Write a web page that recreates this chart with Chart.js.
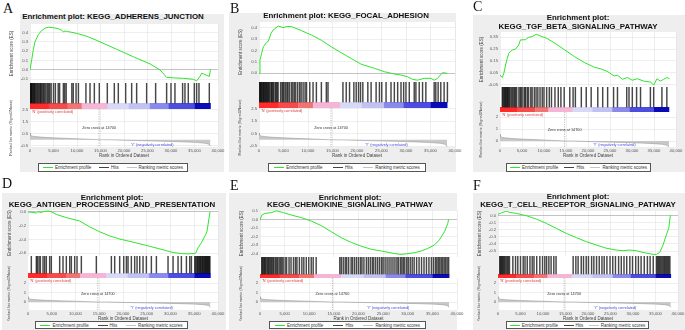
<!DOCTYPE html>
<html>
<head>
<meta charset="utf-8">
<script src="https://cdn.jsdelivr.net/npm/chart.js@4.4.1/dist/chart.umd.min.js"></script>
<style>
  body { margin: 0; width: 685px; height: 330px; position: relative; overflow: hidden; background: #fff;
         font-family: "Liberation Sans", Arial, sans-serif; }
  .box { position: absolute; background: #eeeeee; }
  .letter { position: absolute; font-family: "Liberation Serif", "DejaVu Serif", serif; font-size: 14px; line-height: 14px; color: #111; }
  .title { position: absolute; font-weight: bold; font-size: 7.9px; text-align: center; white-space: nowrap;
           transform: translateX(-50%); color: #111; }
  .legend { position: absolute; box-sizing: border-box; border: 1px solid #555; background: #fff; display: flex;
            justify-content: space-around; align-items: center; font-size: 4.5px; color: #333; white-space: nowrap; }
  .legend i { display: inline-block; width: 10px; height: 1px; vertical-align: middle; margin-right: 2px; }
  canvas { position: absolute; }
</style>
</head>
<body>
<script>
// ====== DATOS ======
// ranked list (compartida por los 6 paneles)
const metricRank  = [0, 100, 500, 1500, 3000, 5000, 7500, 10000, 12500, 14700, 16500, 20000, 24000, 28000, 32000, 35000, 37000, 38000, 38400];
const metricScore = [0.55, 0.38, 0.3, 0.25, 0.2, 0.16, 0.12, 0.08, 0.04, 0.0, 0.0, -0.04, -0.08, -0.12, -0.17, -0.22, -0.28, -0.36, -0.55];
const zeroCross = 14700;

// barra de color (rojo -> azul)
const colorStops = [0, 4000, 8000, 11000, 16500, 21000, 25500, 29500, 35000, 38400];
const colorBands = ['#ff2a2a', '#f44c4c', '#f07474', '#f5b6d6', '#d8d8f7', '#c2c2f2', '#8a8aec', '#4d4de0', '#0a0ab8'];

// A - KEGG_ADHERENS_JUNCTION
const rankA = [0, 360, 700, 1060, 1770, 2490, 3200, 3900, 4960, 6000, 6740, 7100, 7450, 8000, 9930, 12060, 14890, 18440, 21990, 25530, 27660, 29070, 30500, 32620, 34750, 35460, 36170, 36520, 37230, 38150, 38400];
const esA   = [0, 0.107, 0.215, 0.30, 0.376, 0.42, 0.445, 0.455, 0.45, 0.44, 0.425, 0.405, 0.415, 0.41, 0.39, 0.36, 0.30, 0.22, 0.14, 0.064, 0.0, -0.08, -0.085, -0.09, -0.1, -0.117, -0.07, -0.035, -0.05, -0.07, 0.005];
const hitsA = [30, 120, 260, 380, 520, 700, 850, 1000, 1150, 1400, 1600, 1800, 2050, 2250, 2400, 2700, 2900, 3150, 3400, 3700, 3950, 4200, 4500, 5000, 5400, 6000, 6300, 7100, 7400, 7700, 8900, 9200, 9800, 10300, 11900, 12770, 13690, 14750, 16450, 17940, 18790, 20350, 21630, 22690, 24820, 26730, 29070, 30000, 30840, 32470, 32970, 33680, 34960, 35450, 35950, 38150];

// B - KEGG_FOCAL_ADHESION
const rankB = [0, 200, 540, 880, 1550, 1900, 2440, 2900, 3930, 4940, 5620, 6630, 8670, 10700, 12730, 14760, 16790, 18820, 20850, 23560, 25590, 27620, 28980, 30330, 31340, 32360, 33710, 35070, 35750, 36420, 37440, 38450];
const esB   = [0, 0.117, 0.175, 0.233, 0.27, 0.28, 0.35, 0.38, 0.415, 0.40, 0.41, 0.41, 0.374, 0.336, 0.29, 0.233, 0.18, 0.13, 0.08, 0.044, 0.014, -0.006, -0.015, -0.03, -0.053, -0.06, -0.044, -0.044, -0.06, -0.045, 0.006, 0.0];
const hitsB = [60, 200, 330, 450, 600, 780, 900, 1050, 1200, 1380, 1500, 1700, 1850, 2000, 2200, 2450, 2600, 2800, 3000, 3300, 3500, 3700, 3900, 4400, 4700, 4900, 5100, 5400, 5700, 5900, 6200, 6600, 6900, 7200, 7500, 7900, 8300, 8600, 9000, 9400, 9700, 10360, 11030, 11710, 12730, 13740, 14080, 17130, 17800, 18480, 19360, 19840, 20310, 20720, 21190, 22210, 22880, 23900, 24580, 25050, 25930, 26940, 27620, 28300, 28980, 29520, 29990, 30670, 31680, 32020, 32700, 33380, 34050, 35750, 36080, 36560, 37100, 37780, 38450];

// C - KEGG_TGF_BETA_SIGNALING_PATHWAY
const rankC = [0, 520, 900, 1270, 1650, 2020, 2770, 3520, 4260, 4640, 5760, 6510, 7260, 8230, 9130, 10620, 12490, 14740, 16980, 19220, 21470, 22960, 24460, 25960, 26700, 27830, 28950, 30070, 31190, 32690, 34180, 34930, 35680, 36430, 37180, 37920, 38520];
const esC   = [0.031, 0.01, 0.05, 0.116, 0.173, 0.215, 0.243, 0.25, 0.285, 0.328, 0.33, 0.35, 0.355, 0.376, 0.362, 0.342, 0.30, 0.243, 0.186, 0.136, 0.097, 0.083, 0.06, 0.023, 0.03, -0.005, 0.01, -0.013, 0.0, -0.02, -0.028, -0.053, 0.0, -0.02, -0.005, 0.01, 0.0];
const hitsC = [520, 700, 900, 1100, 1250, 1450, 1650, 1800, 2000, 2200, 2500, 2750, 3000, 3300, 3500, 3800, 4300, 4600, 4850, 5200, 5600, 5800, 6200, 6500, 7000, 7300, 7800, 8200, 8600, 9100, 9600, 10000, 10600, 11200, 11700, 12490, 13240, 13840, 14590, 15860, 16610, 17130, 18480, 19600, 20720, 22220, 23340, 24460, 25810, 26700, 28800, 29320, 30070, 31040, 31940, 34180, 34930, 36800, 37920];

// D - KEGG_ANTIGEN_PROCESSING_AND_PRESENTATION
const rankD = [0, 1050, 1760, 2110, 2810, 3160, 4210, 4910, 5970, 8070, 10880, 12990, 15090, 17200, 19300, 22110, 25620, 28430, 30540, 32290, 33700, 35310, 35800, 36500, 37420, 37700, 38050, 38330];
const esD   = [-0.005, -0.01, -0.02, 0.0, -0.015, 0.0, 0.01, 0.0, -0.04, -0.086, -0.135, -0.22, -0.29, -0.35, -0.395, -0.44, -0.50, -0.55, -0.59, -0.605, -0.61, -0.6, -0.52, -0.45, -0.33, -0.28, -0.12, 0.0];
const hitsD = [700, 1760, 1970, 2320, 2600, 3160, 3510, 3860, 4560, 4910, 6670, 7370, 8070, 8780, 9130, 9830, 10320, 11230, 14390, 17550, 18250, 19300, 20150, 20710, 21060, 21760, 22460, 22960, 23520, 24220, 24920, 25970, 27030, 29480, 30540, 31590, 32290, 33350, 34050, 34400, 35100, 35300, 35550, 35700, 35900, 36100, 36250, 36400, 36600, 36750, 36900, 37100, 37250, 37400, 37550, 37700, 37850, 38000, 38150, 38300];

// E - KEGG_CHEMOKINE_SIGNALING_PATHWAY
const rankE = [0, 340, 1010, 2360, 3370, 4720, 6410, 8430, 10450, 12480, 14500, 16530, 18550, 20570, 22600, 24620, 27320, 28670, 30020, 31360, 32710, 34060, 35410, 36420, 37460, 38110, 38310];
const esE   = [-0.01, 0.05, 0.07, 0.08, 0.10, 0.08, 0.05, 0.02, -0.02, -0.075, -0.145, -0.215, -0.27, -0.314, -0.35, -0.37, -0.40, -0.41, -0.40, -0.39, -0.37, -0.34, -0.30, -0.24, -0.145, -0.05, 0.0];
const hitsE = [340, 500, 700, 900, 1050, 1250, 1500, 1700, 1900, 2150, 2350, 2600, 2800, 3100, 3350, 3600, 3900, 4200, 4450, 4700, 5100, 5400, 5900, 6300, 6800, 7200, 7500, 8000, 8500, 8900, 9400, 9900, 10400, 10800, 11400, 16200, 16500, 16900, 17300, 17600, 18000, 18500, 18800, 19200, 19600, 20000, 20400, 20700, 21100, 21600, 22000, 22400, 22800, 23100, 23500, 23900, 24300, 24700, 25000, 25400, 25800, 26200, 26600, 27000, 27400, 27800, 28100, 28500, 28800, 29100, 29400, 29800, 30100, 30500, 30900, 31300, 31800, 32300, 32800, 33300, 33800, 34300, 34800, 35200, 35600, 35900, 36200, 36500, 36800, 37100, 37400, 37700, 38000, 38300];

// F - KEGG_T_CELL_RECEPTOR_SIGNALING_PATHWAY
const rankF = [0, 740, 1850, 2590, 4080, 6300, 8520, 10740, 12970, 15190, 17410, 19640, 21860, 24080, 26310, 27790, 29270, 30750, 32230, 34460, 35200, 35940, 36680, 37420, 37940, 38310];
const esF   = [0.02, 0.04, 0.066, 0.047, 0.033, 0.0, -0.047, -0.108, -0.18, -0.25, -0.31, -0.368, -0.415, -0.46, -0.486, -0.495, -0.486, -0.495, -0.52, -0.547, -0.547, -0.52, -0.415, -0.27, -0.18, 0.01];
const hitsF = [370, 550, 750, 950, 1150, 1350, 1550, 1800, 2050, 2300, 2550, 3300, 3900, 4400, 5000, 5600, 6000, 6500, 7100, 7600, 8000, 8600, 9300, 9900, 10400, 10800, 11300, 11800, 12400, 12900, 16700, 17300, 17800, 18500, 19000, 19600, 20100, 20800, 21300, 21900, 22500, 23100, 23600, 24200, 24900, 25500, 26100, 26800, 27400, 28000, 28600, 29300, 29900, 30600, 31200, 31800, 32500, 33200, 33800, 34500, 35200, 35450, 35700, 35950, 36200, 36450, 36700, 36950, 37200, 37450, 37700, 37950, 38200];

// ====== PANELES (textos, escalas y posición) ======
const panels = [
  { letter: 'A', title: ['Enrichment plot: KEGG_ADHERENS_JUNCTION'], rank: rankA, es: esA, hits: hitsA,
    esMin: -0.14, esMax: 0.49, esStep: 0.1, esDec: 1, rmMin: -0.61, rmMax: 2.58, rmStep: 0.5, rmDec: 1,
    box: [20, 14, 204, 158], letterAt: [3, 2], titleAt: [113, 17, 8],
    x0: 30, x1: 218, es0: 24, es1: 83, cb0: 103, cb1: 109, rm1: 147, legend: [38, 163, 150, 9] },
  { letter: 'B', title: ['Enrichment plot: KEGG_FOCAL_ADHESION'], rank: rankB, es: esB, hits: hitsB,
    esMin: -0.076, esMax: 0.45, esStep: 0.1, esDec: 1, rmMin: -0.58, rmMax: 2.58, rmStep: 0.5, rmDec: 1,
    box: [229, 13, 227, 159], letterAt: [230, 2], titleAt: [346, 16, 8],
    x0: 259, x1: 455, es0: 22, es1: 82, cb0: 102, cb1: 108, rm1: 147, legend: [268, 163, 158, 9] },
  { letter: 'C', title: ['Enrichment plot:', 'KEGG_TGF_BETA_SIGNALING_PATHWAY'], rank: rankC, es: esC, hits: hitsC,
    esMin: -0.07, esMax: 0.395, esStep: 0.05, esDec: 2, rmMin: -0.5, rmMax: 2.42, rmStep: 1, rmDec: 0,
    box: [473, 15, 212, 157], letterAt: [473, 0], titleAt: [578, 17, 9],
    x0: 500, x1: 676, es0: 32, es1: 87, cb0: 107, cb1: 112, rm1: 147, legend: [506, 163, 145, 9] },
  { letter: 'D', title: ['Enrichment plot:', 'KEGG_ANTIGEN_PROCESSING_AND_PRESENTATION'], rank: rankD, es: esD, hits: hitsD,
    esMin: -0.64, esMax: 0.024, esStep: 0.1, esDec: 1, rmMin: -0.84, rmMax: 2.53, rmStep: 1, rmDec: 0,
    box: [2, 193, 224, 137], letterAt: [2, 177], titleAt: [112, 197, 7],
    x0: 28, x1: 218, es0: 210, es1: 256, cb0: 273, cb1: 278, rm1: 310, legend: [35, 321, 153, 8] },
  { letter: 'E', title: ['Enrichment plot:', 'KEGG_CHEMOKINE_SIGNALING_PATHWAY'], rank: rankE, es: esE, hits: hitsE,
    esMin: -0.44, esMax: 0.11, esStep: 0.1, esDec: 1, rmMin: -0.84, rmMax: 2.53, rmStep: 1, rmDec: 0,
    box: [229, 193, 228, 137], letterAt: [230, 179], titleAt: [350, 197, 7],
    x0: 260, x1: 457, es0: 210, es1: 257, cb0: 274, cb1: 278, rm1: 310, legend: [269, 321, 157, 8] },
  { letter: 'F', title: ['Enrichment plot:', 'KEGG_T_CELL_RECEPTOR_SIGNALING_PATHWAY'], rank: rankF, es: esF, hits: hitsF,
    esMin: -0.57, esMax: 0.067, esStep: 0.1, esDec: 1, rmMin: -0.84, rmMax: 2.53, rmStep: 1, rmDec: 0,
    box: [473, 193, 212, 137], letterAt: [473, 179], titleAt: [578, 197, 7.5],
    x0: 498, x1: 678, es0: 211, es1: 256, cb0: 274, cb1: 278, rm1: 310, legend: [506, 321, 143, 8] }
];

// ====== ESTILO GENERAL ======
Chart.defaults.font.family = '"Liberation Sans", Arial, sans-serif';
Chart.defaults.color = '#555';
const YW = 21, PR = 14, PT = 4, PTR = 32, XH = 11;
const GRID = '#e2e2e2';
const tickFont = { size: 4.2 };
const axisFont = { size: 4.5 };

const fixY = w => a => { a.width = w; a.paddingTop = 0; a.paddingBottom = 0; };
const fixX = h => a => { a.height = h; a.paddingLeft = 0; a.paddingRight = 0; };

// fondo blanco del área de dibujo
const whiteArea = {
  id: 'whiteArea',
  beforeDraw(chart) {
    const { ctx, chartArea: a } = chart;
    ctx.save(); ctx.fillStyle = '#fff'; ctx.fillRect(a.left, a.top, a.width, a.height); ctx.restore();
  }
};

// barra de color bajo los hits
const colorBar = {
  id: 'colorBar',
  beforeDatasetsDraw(chart, args, opts) {
    const { ctx, scales: { x, y } } = chart;
    const yt = y.getPixelForValue(opts.frac), yb = y.getPixelForValue(0);
    ctx.save();
    for (let i = 0; i < colorBands.length; i++) {
      const xa = x.getPixelForValue(colorStops[i]), xb = x.getPixelForValue(colorStops[i + 1]);
      ctx.fillStyle = colorBands[i];
      ctx.fillRect(xa, yt, xb - xa + 0.3, yb - yt);
    }
    ctx.restore();
  }
};

// notas del gráfico de ranking
const rankNotes = {
  id: 'rankNotes',
  afterDatasetsDraw(chart) {
    const { ctx, chartArea: a, scales: { x } } = chart;
    ctx.save();
    const zx = x.getPixelForValue(zeroCross);
    ctx.strokeStyle = '#8a8a8a'; ctx.lineWidth = 0.6; ctx.setLineDash([1.2, 1.2]);
    ctx.beginPath(); ctx.moveTo(zx, a.top); ctx.lineTo(zx, a.bottom); ctx.stroke();
    ctx.font = '3.8px "Liberation Sans", Arial, sans-serif';
    ctx.textBaseline = 'middle';
    ctx.fillStyle = '#e23a3a'; ctx.textAlign = 'left';
    ctx.fillText("'N' (positively correlated)", x.getPixelForValue(400), a.top + 2.5);
    ctx.fillStyle = '#333'; ctx.textAlign = 'center';
    ctx.fillText('Zero cross at ' + zeroCross, zx, (a.top + a.bottom) / 2);
    ctx.fillStyle = '#4a4ae0';
    ctx.fillText("'Y' (negatively correlated)", x.getPixelForValue(26000), a.bottom - 2.2);
    ctx.restore();
  }
};

function addDiv(cls, l, t, html) {
  const d = document.createElement('div');
  d.className = cls; d.style.left = l + 'px'; d.style.top = t + 'px';
  if (html) d.innerHTML = html;
  document.body.appendChild(d);
  return d;
}
function mkCanvas(l, t, w, h) {
  const c = document.createElement('canvas');
  c.width = w; c.height = h;
  c.style.left = l + 'px'; c.style.top = t + 'px'; c.style.width = w + 'px'; c.style.height = h + 'px';
  document.body.appendChild(c);
  return c;
}
const base = { responsive: false, animation: false, devicePixelRatio: 1,
  plugins: { legend: { display: false }, tooltip: { enabled: false } } };

panels.forEach(p => {
  // caja gris, letra, título y leyenda
  const b = addDiv('box', p.box[0], p.box[1]);
  b.style.width = p.box[2] + 'px'; b.style.height = p.box[3] + 'px';
  addDiv('letter', p.letterAt[0], p.letterAt[1], p.letter);
  const t = addDiv('title', p.titleAt[0], p.titleAt[1] - p.titleAt[2] / 2, p.title.join('<br>'));
  t.style.lineHeight = p.titleAt[2] + 'px';
  const lg = addDiv('legend', p.legend[0], p.legend[1],
    '<span><i style="background:#2ee62e"></i>Enrichment profile</span>' +
    '<span><i style="background:#444"></i>Hits</span>' +
    '<span><i style="background:#c4c4c4"></i>Ranking metric scores</span>');
  lg.style.width = p.legend[2] + 'px'; lg.style.height = p.legend[3] + 'px';

  const pw = p.x1 - p.x0;

  // 1) curva de enrichment score
  new Chart(mkCanvas(p.x0 - YW, p.es0 - PT, YW + pw + PR, PT + (p.es1 - p.es0)), {
    type: 'line',
    data: { datasets: [{ data: p.rank.map((r, i) => ({ x: r, y: p.es[i] })),
      borderColor: '#2ee62e', borderWidth: 1, pointRadius: 0, tension: 0, fill: false }] },
    options: { ...base,
      layout: { padding: { top: PT, right: PR, bottom: 0, left: 0 } },
      scales: {
        x: { type: 'linear', min: 0, max: 40000, ticks: { display: false, stepSize: 5000 },
             grid: { color: GRID, drawTicks: false, lineWidth: 0.6 }, border: { display: false }, afterFit: fixX(0) },
        y: { min: p.esMin, max: p.esMax,
             ticks: { stepSize: p.esStep, includeBounds: false, font: tickFont, padding: 2, callback: v => v.toFixed(p.esDec) },
             grid: { color: c => Math.abs(c.tick.value) < 1e-9 ? '#9a9a9a' : GRID, drawTicks: false, lineWidth: 0.6 },
             border: { display: false },
             title: { display: true, text: 'Enrichment score (ES)', font: axisFont, color: '#444', padding: 0 },
             afterFit: fixY(YW) }
      } },
    plugins: [whiteArea]
  });

  // 2) hits + barra de color
  const frac = (p.cb1 - p.cb0) / (p.cb1 - p.es1);
  new Chart(mkCanvas(p.x0, p.es1, pw, p.cb1 - p.es1), {
    type: 'bar',
    data: { datasets: [{ data: p.hits.map(h => ({ x: h, y: 1 })), base: frac,
      backgroundColor: 'rgba(0,0,0,0.72)', borderWidth: 0, barThickness: 0.8 }] },
    options: { ...base,
      plugins: { ...base.plugins, colorBar: { frac: frac } },
      layout: { padding: 0 },
      scales: {
        x: { type: 'linear', min: 0, max: 40000, offset: false, display: false },
        y: { min: 0, max: 1, display: false }
      } },
    plugins: [whiteArea, colorBar]
  });

  // 3) ranked list metric
  new Chart(mkCanvas(p.x0 - YW, p.cb1 - PTR, YW + pw + PR, PTR + (p.rm1 - p.cb1) + XH), {
    type: 'line',
    data: { datasets: [{ data: metricRank.map((r, i) => ({ x: r, y: metricScore[i] })),
      borderColor: '#9c9c9c', backgroundColor: '#c8c8c8', borderWidth: 0.6, pointRadius: 0, tension: 0, fill: 'origin' }] },
    options: { ...base,
      layout: { padding: { top: PTR, right: PR, bottom: 0, left: 0 } },
      scales: {
        x: { type: 'linear', min: 0, max: 40000,
             ticks: { stepSize: 5000, font: tickFont, padding: 1.5, maxRotation: 0, autoSkip: false,
                      callback: v => v.toLocaleString('en-US') },
             grid: { color: GRID, drawTicks: false, lineWidth: 0.6 }, border: { display: false },
             title: { display: true, text: 'Rank in Ordered Dataset', font: axisFont, color: '#444', padding: 0 },
             afterFit: fixX(XH) },
        y: { min: p.rmMin, max: p.rmMax,
             ticks: { stepSize: p.rmStep, includeBounds: false, font: tickFont, padding: 2, callback: v => v.toFixed(p.rmDec) },
             grid: { color: GRID, drawTicks: false, lineWidth: 0.6 }, border: { display: false },
             title: { display: true, text: 'Ranked list metric (Signal2Noise)', font: { size: 3.8 }, color: '#444', padding: 0 },
             afterFit: fixY(YW) }
      } },
    plugins: [whiteArea, rankNotes]
  });
});
</script>
</body>
</html>
